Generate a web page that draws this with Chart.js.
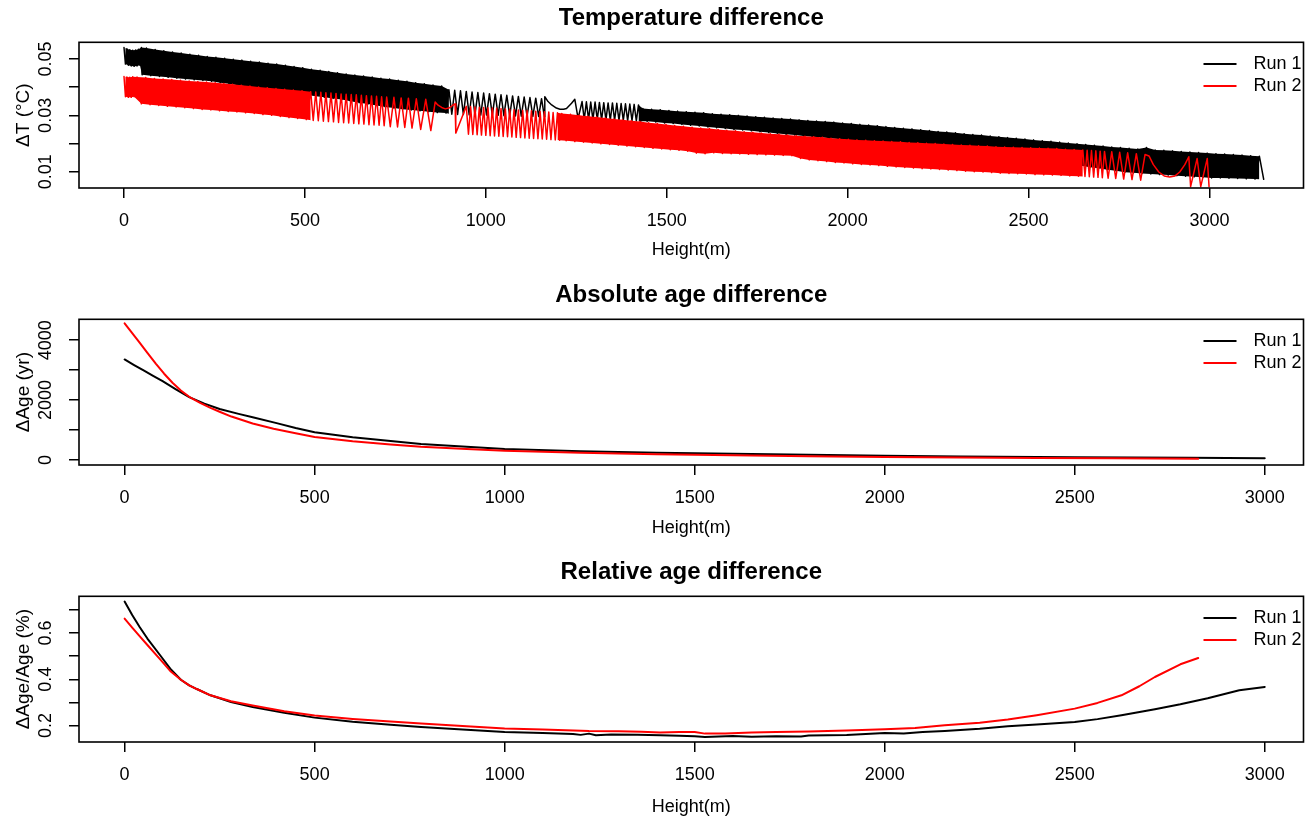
<!DOCTYPE html>
<html>
<head>
<meta charset="utf-8">
<script src="https://cdn.jsdelivr.net/npm/chart.js@4.4.0/dist/chart.umd.min.js"></script>
<style>
  html, body { margin: 0; padding: 0; background: #fff; overflow: hidden; }
  body { width: 1310px; height: 818px; position: relative; }
  canvas { position: absolute; left: 0; }
</style>
</head>
<body>
<canvas id="c1" width="1310" height="272" style="top:0px"></canvas>
<canvas id="c2" width="1310" height="272" style="top:277px"></canvas>
<canvas id="c3" width="1310" height="264" style="top:554px"></canvas>
<script>
// ---- axis ticks ----
const xTicks = [0, 500, 1000, 1500, 2000, 2500, 3000];
const tempTicks = [0.01, 0.02, 0.03, 0.04, 0.05];
const tempTickLabels = ['0.01', '', '0.03', '', '0.05'];
const absTicks = [0, 1000, 2000, 3000, 4000];
const absTickLabels = ['0', '', '2000', '', '4000'];
const relTicks = [0.2, 0.3, 0.4, 0.5, 0.6, 0.7];
const relTickLabels = ['0.2', '', '0.4', '', '0.6', ''];

// ---- Temperature difference: zigzag peaks and troughs ----
const run1PeakHeight = [0, 8, 16, 24, 32, 40, 48,
  62, 86, 110, 134, 158, 182, 206, 230, 254, 278, 302, 326, 350, 374, 398, 422, 446, 470, 494, 518, 542, 566, 590, 614, 638, 662, 686, 710, 734, 758, 782, 806, 830, 854, 878,
  898, 914, 930, 946, 962, 978, 994, 1010, 1026, 1042, 1058, 1074, 1090, 1106, 1122, 1138, 1154,
  1163, 1172, 1182, 1195, 1205, 1215, 1223, 1237, 1246,
  1266, 1278, 1290, 1302, 1314, 1326, 1338, 1350, 1362, 1374, 1386, 1398, 1410, 1422,
  1434, 1458, 1482, 1506, 1530, 1554, 1578, 1602, 1626, 1650, 1674, 1698, 1722, 1746, 1770, 1794, 1818, 1842, 1866, 1890,
  1914, 1938, 1962, 1986, 2010, 2034, 2058, 2082, 2106, 2130, 2154, 2178, 2202, 2226, 2250, 2274, 2298, 2322, 2346, 2370,
  2394, 2418, 2442, 2466, 2490, 2514, 2538, 2562, 2586, 2610, 2634, 2658, 2682, 2706, 2730, 2754, 2778, 2802, 2826, 2850,
  2874, 2898, 2922, 2946, 2970, 2994, 3018, 3042, 3066, 3090, 3114, 3138];
const run1PeakTemp = [0.0541, 0.0536, 0.0533, 0.0531, 0.0532, 0.0535, 0.0541,
  0.0539, 0.0534, 0.0529, 0.0525, 0.0521, 0.0517, 0.0513, 0.0509, 0.0506, 0.0503, 0.0499, 0.0496, 0.0492, 0.0489, 0.0485, 0.0482, 0.0478, 0.0473, 0.0469, 0.0464, 0.0460, 0.0456, 0.0451, 0.0447, 0.0443, 0.0440, 0.0436, 0.0432, 0.0429, 0.0425, 0.0421, 0.0416, 0.0412, 0.0408, 0.0404,
  0.0391, 0.0389, 0.0387, 0.0385, 0.0383, 0.0381, 0.0379, 0.0377, 0.0375, 0.0373, 0.0371, 0.0369, 0.0367, 0.0365, 0.0363, 0.0361, 0.0359,
  0.0366, 0.0349, 0.0337, 0.0326, 0.0322, 0.0322, 0.0324, 0.0343, 0.0357,
  0.0349, 0.0348, 0.0347, 0.0347, 0.0346, 0.0345, 0.0344, 0.0344, 0.0343, 0.0342, 0.0341, 0.0340, 0.0339, 0.0337,
  0.0324, 0.0322, 0.0320, 0.0317, 0.0315, 0.0313, 0.0311, 0.0309, 0.0306, 0.0304, 0.0302, 0.0300, 0.0298, 0.0295, 0.0293, 0.0291, 0.0289, 0.0287, 0.0284, 0.0282,
  0.0280, 0.0278, 0.0276, 0.0273, 0.0271, 0.0268, 0.0266, 0.0263, 0.0260, 0.0257, 0.0254, 0.0252, 0.0249, 0.0246, 0.0243, 0.0241, 0.0238, 0.0235, 0.0232, 0.0230,
  0.0227, 0.0224, 0.0221, 0.0219, 0.0216, 0.0213, 0.0210, 0.0208, 0.0205, 0.0202, 0.0199, 0.0197, 0.0194, 0.0191, 0.0188, 0.0186, 0.0183, 0.0181, 0.0186, 0.0177,
  0.0176, 0.0174, 0.0172, 0.0170, 0.0168, 0.0166, 0.0164, 0.0163, 0.0161, 0.0159, 0.0157, 0.0155];
const run1TroughHeight = [4, 12, 20, 28, 36, 44, 50,
  74, 98, 122, 146, 170, 194, 218, 242, 266, 290, 314, 338, 362, 386, 410, 434, 458, 482, 506, 530, 554, 578, 602, 626, 650, 674, 698, 722, 746, 770, 794, 818, 842, 866, 890,
  906, 922, 938, 954, 970, 986, 1002, 1018, 1034, 1050, 1066, 1082, 1098, 1114, 1130, 1146, 1162,
  1255,
  1272, 1284, 1296, 1308, 1320, 1332, 1344, 1356, 1368, 1380, 1392, 1404, 1416, 1428,
  1446, 1470, 1494, 1518, 1542, 1566, 1590, 1614, 1638, 1662, 1686, 1710, 1734, 1758, 1782, 1806, 1830, 1854, 1878, 1902,
  1926, 1950, 1974, 1998, 2022, 2046, 2070, 2094, 2118, 2142, 2166, 2190, 2214, 2238, 2262, 2286, 2310, 2334, 2358, 2382,
  2406, 2430, 2454, 2478, 2502, 2526, 2550, 2574, 2598, 2622, 2646, 2670, 2694, 2718, 2742, 2766, 2790, 2814, 2838, 2862,
  2886, 2910, 2934, 2958, 2982, 3006, 3030, 3054, 3078, 3102, 3126, 3150];
const run1TroughTemp = [0.0482, 0.0478, 0.0475, 0.0474, 0.0475, 0.0478, 0.0444,
  0.0441, 0.0438, 0.0435, 0.0432, 0.0429, 0.0426, 0.0424, 0.0421, 0.0416, 0.0412, 0.0407, 0.0403, 0.0398, 0.0394, 0.0389, 0.0385, 0.0380, 0.0376, 0.0372, 0.0368, 0.0364, 0.0360, 0.0356, 0.0350, 0.0345, 0.0340, 0.0335, 0.0330, 0.0326, 0.0322, 0.0319, 0.0316, 0.0313, 0.0310, 0.0308,
  0.0304, 0.0303, 0.0303, 0.0302, 0.0302, 0.0301, 0.0301, 0.0300, 0.0300, 0.0299, 0.0299, 0.0298, 0.0297, 0.0297, 0.0296, 0.0296, 0.0295,
  0.0289,
  0.0286, 0.0286, 0.0285, 0.0285, 0.0284, 0.0284, 0.0283, 0.0283, 0.0282, 0.0282, 0.0281, 0.0281, 0.0280, 0.0279,
  0.0279, 0.0276, 0.0273, 0.0271, 0.0268, 0.0265, 0.0262, 0.0259, 0.0256, 0.0253, 0.0250, 0.0248, 0.0245, 0.0242, 0.0239, 0.0236, 0.0233, 0.0230, 0.0227, 0.0224,
  0.0222, 0.0219, 0.0216, 0.0213, 0.0210, 0.0208, 0.0205, 0.0202, 0.0200, 0.0197, 0.0194, 0.0192, 0.0189, 0.0186, 0.0184, 0.0181, 0.0178, 0.0176, 0.0173, 0.0170,
  0.0168, 0.0165, 0.0160, 0.0155, 0.0150, 0.0145, 0.0140, 0.0135, 0.0131, 0.0126, 0.0121, 0.0116, 0.0112, 0.0107, 0.0103, 0.0098, 0.0096, 0.0094, 0.0092, 0.0090,
  0.0088, 0.0086, 0.0084, 0.0082, 0.0080, 0.0078, 0.0078, 0.0077, 0.0076, 0.0075, 0.0074, 0.0073];

const run2PeakHeight = [0, 8, 16, 24,
  36, 60, 84, 108, 132, 156, 180, 204, 228, 252, 276, 300, 324, 348, 372, 396, 420, 444, 468, 492, 516,
  530, 544, 558, 572, 586, 600, 614, 628, 642, 656, 670, 684, 698, 712, 726,
  746, 766, 786, 808, 834,
  860, 868, 878, 888, 898, 908, 915,
  946, 958, 970, 982, 994, 1006, 1018, 1030, 1042, 1054, 1066, 1078, 1090, 1102, 1114, 1126, 1138, 1150, 1162, 1174, 1186, 1198,
  1210, 1234, 1258, 1282, 1306, 1330, 1354, 1378, 1402, 1426, 1450, 1474, 1498, 1522, 1546, 1570, 1594, 1618, 1642, 1666,
  1690, 1714, 1738, 1762, 1786, 1810, 1834, 1858, 1882, 1906, 1930, 1954, 1978, 2002, 2026, 2050, 2074, 2098, 2122, 2146,
  2170, 2194, 2218, 2242, 2266, 2290, 2314, 2338, 2362, 2386, 2410, 2434, 2458, 2482, 2506, 2530, 2554, 2578, 2602, 2626, 2650,
  2662, 2674, 2686, 2698, 2710, 2730, 2752, 2774, 2798, 2822,
  2833, 2845, 2860, 2875, 2890, 2905, 2918, 2932, 2943,
  2966, 2994];
const run2PeakTemp = [0.0438, 0.0436, 0.0435, 0.0437,
  0.0436, 0.0434, 0.0431, 0.0429, 0.0427, 0.0425, 0.0422, 0.0420, 0.0418, 0.0416, 0.0413, 0.0410, 0.0407, 0.0404, 0.0401, 0.0398, 0.0395, 0.0393, 0.0390, 0.0387, 0.0384,
  0.0383, 0.0382, 0.0380, 0.0379, 0.0378, 0.0376, 0.0375, 0.0374, 0.0373, 0.0371, 0.0370, 0.0369, 0.0368, 0.0366, 0.0365,
  0.0364, 0.0362, 0.0361, 0.0359, 0.0357,
  0.0347, 0.0336, 0.0328, 0.0323, 0.0326, 0.0335, 0.0341,
  0.0332, 0.0331, 0.0330, 0.0329, 0.0328, 0.0327, 0.0326, 0.0325, 0.0324, 0.0323, 0.0322, 0.0320, 0.0319, 0.0318, 0.0317, 0.0316, 0.0315, 0.0314, 0.0313, 0.0312, 0.0310, 0.0309,
  0.0307, 0.0304, 0.0300, 0.0297, 0.0294, 0.0291, 0.0287, 0.0284, 0.0281, 0.0278, 0.0274, 0.0271, 0.0268, 0.0264, 0.0261, 0.0258, 0.0255, 0.0253, 0.0250, 0.0247,
  0.0245, 0.0242, 0.0240, 0.0237, 0.0235, 0.0233, 0.0230, 0.0228, 0.0226, 0.0224, 0.0222, 0.0219, 0.0217, 0.0215, 0.0213, 0.0212, 0.0210, 0.0209, 0.0207, 0.0206,
  0.0204, 0.0203, 0.0201, 0.0200, 0.0198, 0.0197, 0.0195, 0.0194, 0.0192, 0.0191, 0.0189, 0.0188, 0.0187, 0.0186, 0.0185, 0.0184, 0.0183, 0.0182, 0.0180, 0.0179, 0.0177,
  0.0176, 0.0175, 0.0174, 0.0173, 0.0172, 0.0171, 0.0169, 0.0167, 0.0164, 0.0161,
  0.0156, 0.0125, 0.0099, 0.0085, 0.0081, 0.0085, 0.0099, 0.0125, 0.0153,
  0.0147, 0.0147];
const run2TroughHeight = [4, 12, 20, 28,
  48, 72, 96, 120, 144, 168, 192, 216, 240, 264, 288, 312, 336, 360, 384, 408, 432, 456, 480, 504,
  523, 537, 551, 565, 579, 593, 607, 621, 635, 649, 663, 677, 691, 705, 719,
  736, 756, 776, 796, 820, 848,
  917,
  952, 964, 976, 988, 1000, 1012, 1024, 1036, 1048, 1060, 1072, 1084, 1096, 1108, 1120, 1132, 1144, 1156, 1168, 1180, 1192, 1204,
  1222, 1246, 1270, 1294, 1318, 1342, 1366, 1390, 1414, 1438, 1462, 1486, 1510, 1534, 1558, 1582, 1606, 1630, 1654, 1678,
  1702, 1726, 1750, 1774, 1798, 1822, 1846, 1870, 1894, 1918, 1942, 1966, 1990, 2014, 2038, 2062, 2086, 2110, 2134, 2158,
  2182, 2206, 2230, 2254, 2278, 2302, 2326, 2350, 2374, 2398, 2422, 2446, 2470, 2494, 2518, 2542, 2566, 2590, 2614, 2638,
  2656, 2668, 2680, 2692, 2704, 2720, 2741, 2763, 2786, 2810,
  2948, 2976, 2999];
const run2TroughTemp = [0.0366, 0.0364, 0.0364, 0.0366,
  0.0341, 0.0338, 0.0335, 0.0332, 0.0330, 0.0327, 0.0324, 0.0321, 0.0319, 0.0316, 0.0314, 0.0312, 0.0309, 0.0307, 0.0303, 0.0300, 0.0296, 0.0292, 0.0289, 0.0285,
  0.0282, 0.0281, 0.0279, 0.0278, 0.0277, 0.0275, 0.0274, 0.0273, 0.0271, 0.0270, 0.0269, 0.0267, 0.0266, 0.0265, 0.0263,
  0.0260, 0.0259, 0.0257, 0.0255, 0.0250, 0.0246,
  0.0237,
  0.0233, 0.0232, 0.0231, 0.0230, 0.0229, 0.0228, 0.0227, 0.0226, 0.0225, 0.0224, 0.0223, 0.0222, 0.0221, 0.0220, 0.0219, 0.0218, 0.0217, 0.0216, 0.0215, 0.0214, 0.0213, 0.0212,
  0.0210, 0.0207, 0.0205, 0.0202, 0.0199, 0.0197, 0.0194, 0.0191, 0.0189, 0.0186, 0.0183, 0.0181, 0.0178, 0.0176, 0.0173, 0.0166, 0.0164, 0.0167, 0.0165, 0.0164,
  0.0163, 0.0162, 0.0161, 0.0160, 0.0159, 0.0158, 0.0157, 0.0147, 0.0142, 0.0139, 0.0136, 0.0133, 0.0131, 0.0128, 0.0126, 0.0124, 0.0122, 0.0119, 0.0117, 0.0115,
  0.0113, 0.0111, 0.0110, 0.0108, 0.0106, 0.0104, 0.0102, 0.0100, 0.0099, 0.0097, 0.0095, 0.0094, 0.0093, 0.0092, 0.0090, 0.0089, 0.0088, 0.0087, 0.0085, 0.0084,
  0.0083, 0.0082, 0.0081, 0.0080, 0.0079, 0.0077, 0.0076, 0.0074, 0.0072, 0.0070,
  0.0047, 0.0047, 0.0047];

// ---- Absolute age difference (yr) ----
const absRun1Height = [0, 25, 50, 75, 100, 135, 170, 210, 250, 300, 337, 400, 450, 500, 600, 700, 780, 900, 1000, 1200, 1400, 1600, 1800, 2000, 2200, 2500, 2800, 3000];
const absRun1Years = [3356, 3170, 2990, 2810, 2630, 2360, 2101, 1880, 1700, 1540, 1430, 1230, 1070, 926, 760, 630, 537, 440, 369, 290, 240, 205, 175, 144, 120, 95, 72, 54];
const absRun2Height = [0, 20, 40, 60, 82, 104, 126, 148, 170, 200, 226, 250, 281, 337, 392, 450, 500, 600, 700, 780, 900, 1000, 1200, 1400, 1600, 1800, 2000, 2200, 2400, 2600, 2825];
const absRun2Years = [4564, 4240, 3910, 3580, 3220, 2880, 2580, 2320, 2110, 1900, 1740, 1610, 1450, 1220, 1040, 890, 770, 625, 515, 440, 370, 312, 245, 190, 158, 128, 100, 80, 66, 55, 44];

// ---- Relative age difference (%) ----
const relRun1Height = [0, 20, 40, 60, 93, 120, 148, 170, 190, 226, 280, 337, 420, 500, 600, 700, 780, 900, 1000, 1100, 1180, 1200, 1222, 1240, 1280, 1350, 1409, 1460, 1500, 1527, 1600, 1650, 1714, 1780, 1800, 1900, 2000, 2050, 2100, 2158, 2250, 2324, 2400, 2500, 2560, 2623, 2711, 2778, 2850, 2933, 3000];
const relRun1Pct = [0.7357, 0.678, 0.625, 0.576, 0.505, 0.446, 0.398, 0.374, 0.358, 0.3309, 0.302, 0.2805, 0.256, 0.2345, 0.217, 0.204, 0.194, 0.182, 0.1724, 0.168, 0.164, 0.160, 0.1654, 0.158, 0.162, 0.160, 0.158, 0.156, 0.1538, 0.151, 0.155, 0.152, 0.1538, 0.153, 0.157, 0.159, 0.168, 0.166, 0.172, 0.1767, 0.186, 0.197, 0.205, 0.2156, 0.228, 0.2445, 0.2704, 0.292, 0.318, 0.3525, 0.3668];
const relRun2Height = [0, 20, 40, 60, 93, 120, 148, 170, 190, 226, 280, 337, 420, 500, 600, 700, 780, 900, 1000, 1100, 1222, 1300, 1360, 1409, 1460, 1500, 1527, 1580, 1650, 1714, 1800, 1900, 2000, 2080, 2158, 2250, 2324, 2400, 2500, 2560, 2623, 2670, 2711, 2778, 2825];
const relRun2Pct = [0.662, 0.623, 0.585, 0.548, 0.487, 0.436, 0.398, 0.374, 0.358, 0.3309, 0.305, 0.2864, 0.262, 0.2432, 0.229, 0.218, 0.2086, 0.197, 0.187, 0.183, 0.1767, 0.176, 0.174, 0.1697, 0.172, 0.1724, 0.1654, 0.166, 0.170, 0.1724, 0.175, 0.179, 0.184, 0.190, 0.2013, 0.212, 0.226, 0.245, 0.2734, 0.298, 0.3309, 0.37, 0.41, 0.4648, 0.492];

const FONT = '"Liberation Sans", Arial, Helvetica, sans-serif';

function points(hs, vs) {
  return hs.map((h, i) => ({ x: h, y: vs[i] }));
}
// peaks and troughs merged back into one trace in height order
function zigzag(ph, pt, th, tt) {
  return points(ph, pt).concat(points(th, tt)).sort((a, b) => a.x - b.x);
}
const inRanges = (c, ranges) => ranges.some(r => c.p0.parsed.x >= r[0] && c.p1.parsed.x <= r[1]);

// where the trace is so tight that it prints as a solid band, fill peaks -> troughs
function bandSets(ph, pt, th, tt, color, openRanges, order) {
  return [
    { label: '', band: true, data: points(ph, pt), borderColor: 'rgba(0,0,0,0)', borderWidth: 1,
      backgroundColor: color, fill: '+1', order: order + 1,
      segment: { backgroundColor: c => inRanges(c, openRanges) ? 'rgba(0,0,0,0)' : color } },
    { label: '', band: true, data: points(th, tt), borderColor: 'rgba(0,0,0,0)', borderWidth: 1, fill: false, order: order }
  ];
}

// R-like frame: box, main title, rotated y labels, y title, legend
const rFrame = {
  id: 'rFrame',
  afterDraw(chart, args, o) {
    const { ctx, chartArea: a } = chart;
    const y = chart.scales.y;
    ctx.save();
    ctx.strokeStyle = '#000';
    ctx.lineWidth = 1.6;
    ctx.strokeRect(a.left, a.top, a.right - a.left, a.bottom - a.top);

    ctx.fillStyle = '#000';
    ctx.textAlign = 'center';
    ctx.textBaseline = 'middle';
    ctx.font = 'bold 24px ' + FONT;
    ctx.fillText(o.title, (a.left + a.right) / 2, a.top - 24);

    ctx.font = '18px ' + FONT;
    o.yTicks.forEach((v, i) => {
      if (!o.yLabels[i]) return;
      ctx.save();
      ctx.translate(46, y.getPixelForValue(v));
      ctx.rotate(-Math.PI / 2);
      ctx.fillText(o.yLabels[i], 0, 0);
      ctx.restore();
    });
    ctx.font = '19px ' + FONT;
    ctx.save();
    ctx.translate(24, (a.top + a.bottom) / 2);
    ctx.rotate(-Math.PI / 2);
    ctx.fillText(o.yTitle, 0, 0);
    ctx.restore();

    // legend, top right inside the box
    ctx.font = '18px ' + FONT;
    ctx.textAlign = 'left';
    chart.data.datasets.filter(ds => !ds.band).forEach((ds, i) => {
      const ly = a.top + 21.7 + i * 22;
      ctx.strokeStyle = ds.borderColor;
      ctx.lineWidth = 2;
      ctx.beginPath();
      ctx.moveTo(a.right - 100, ly);
      ctx.lineTo(a.right - 67, ly);
      ctx.stroke();
      ctx.fillStyle = '#000';
      ctx.fillText(ds.label, a.right - 50, ly);
    });
    ctx.restore();
  }
};

function makePanel(id, o) {
  const canvas = document.getElementById(id);
  const H = canvas.height;
  const axisGrid = { drawOnChartArea: false, drawTicks: true, tickLength: 10, color: '#000', lineWidth: 1.5 };
  const datasets = [
    { label: 'Run 1', data: o.run1, borderColor: '#000000', borderWidth: o.lineWidth, order: 4 },
    { label: 'Run 2', data: o.run2, borderColor: '#ff0000', borderWidth: o.lineWidth, order: 1 }
  ].concat(o.extra || []);
  return new Chart(canvas, {
    type: 'line',
    data: { datasets },
    options: {
      responsive: false,
      animation: false,
      devicePixelRatio: 1,
      layout: { padding: { top: 42.3, left: 0, right: 6.5, bottom: 0 } },
      elements: {
        point: { radius: 0, hoverRadius: 0 },
        line: { tension: 0, borderJoinStyle: 'round', borderCapStyle: 'round', fill: false }
      },
      plugins: {
        legend: { display: false },
        tooltip: { enabled: false },
        filler: { propagate: false },
        rFrame: { title: o.title, yTitle: o.yTitle, yTicks: o.yTicks, yLabels: o.yLabels }
      },
      scales: {
        x: {
          type: 'linear', min: o.xMin, max: o.xMax,
          afterBuildTicks: s => { s.ticks = xTicks.map(v => ({ value: v })); },
          afterFit: s => { s.height = H - 188; },
          grid: axisGrid,
          border: { display: false },
          ticks: { color: '#000', font: { family: FONT, size: 18 }, padding: 12, autoSkip: false, maxRotation: 0, callback: v => String(v) },
          title: { display: true, text: 'Height(m)', color: '#000', font: { family: FONT, size: 18 }, padding: { top: 0, bottom: o.xTitlePad } }
        },
        y: {
          type: 'linear', min: o.yMin, max: o.yMax,
          afterBuildTicks: s => { s.ticks = o.yTicks.map(v => ({ value: v })); },
          afterFit: s => { s.width = 79; },
          grid: axisGrid,
          border: { display: false },
          ticks: { callback: () => '', padding: 0 }
        }
      }
    },
    plugins: [rFrame]
  });
}

makePanel('c1', {
  title: 'Temperature difference', yTitle: 'ΔT (°C)',
  xMin: -124.4, xMax: 3260, yMin: 0.004223, yMax: 0.055926,
  yTicks: tempTicks, yLabels: tempTickLabels, xTitlePad: 11, lineWidth: 1.5,
  run1: zigzag(run1PeakHeight, run1PeakTemp, run1TroughHeight, run1TroughTemp),
  run2: zigzag(run2PeakHeight, run2PeakTemp, run2TroughHeight, run2TroughTemp),
  extra: bandSets(run1PeakHeight, run1PeakTemp, run1TroughHeight, run1TroughTemp, '#000000', [[890, 1432]], 5)
    .concat(bandSets(run2PeakHeight, run2PeakTemp, run2TroughHeight, run2TroughTemp, '#ff0000', [[516, 1204], [2650, 3100]], 2))
});

makePanel('c2', {
  title: 'Absolute age difference', yTitle: 'ΔAge (yr)',
  xMin: -120, xMax: 3102, yMin: -168, yMax: 4698,
  yTicks: absTicks, yLabels: absTickLabels, xTitlePad: 10, lineWidth: 2,
  run1: points(absRun1Height, absRun1Years),
  run2: points(absRun2Height, absRun2Years)
});

makePanel('c3', {
  title: 'Relative age difference', yTitle: 'ΔAge/Age (%)',
  xMin: -120, xMax: 3102, yMin: 0.1292, yMax: 0.7585,
  yTicks: relTicks, yLabels: relTickLabels, xTitlePad: 0, lineWidth: 2,
  run1: points(relRun1Height, relRun1Pct),
  run2: points(relRun2Height, relRun2Pct)
});
</script>
</body>
</html>
